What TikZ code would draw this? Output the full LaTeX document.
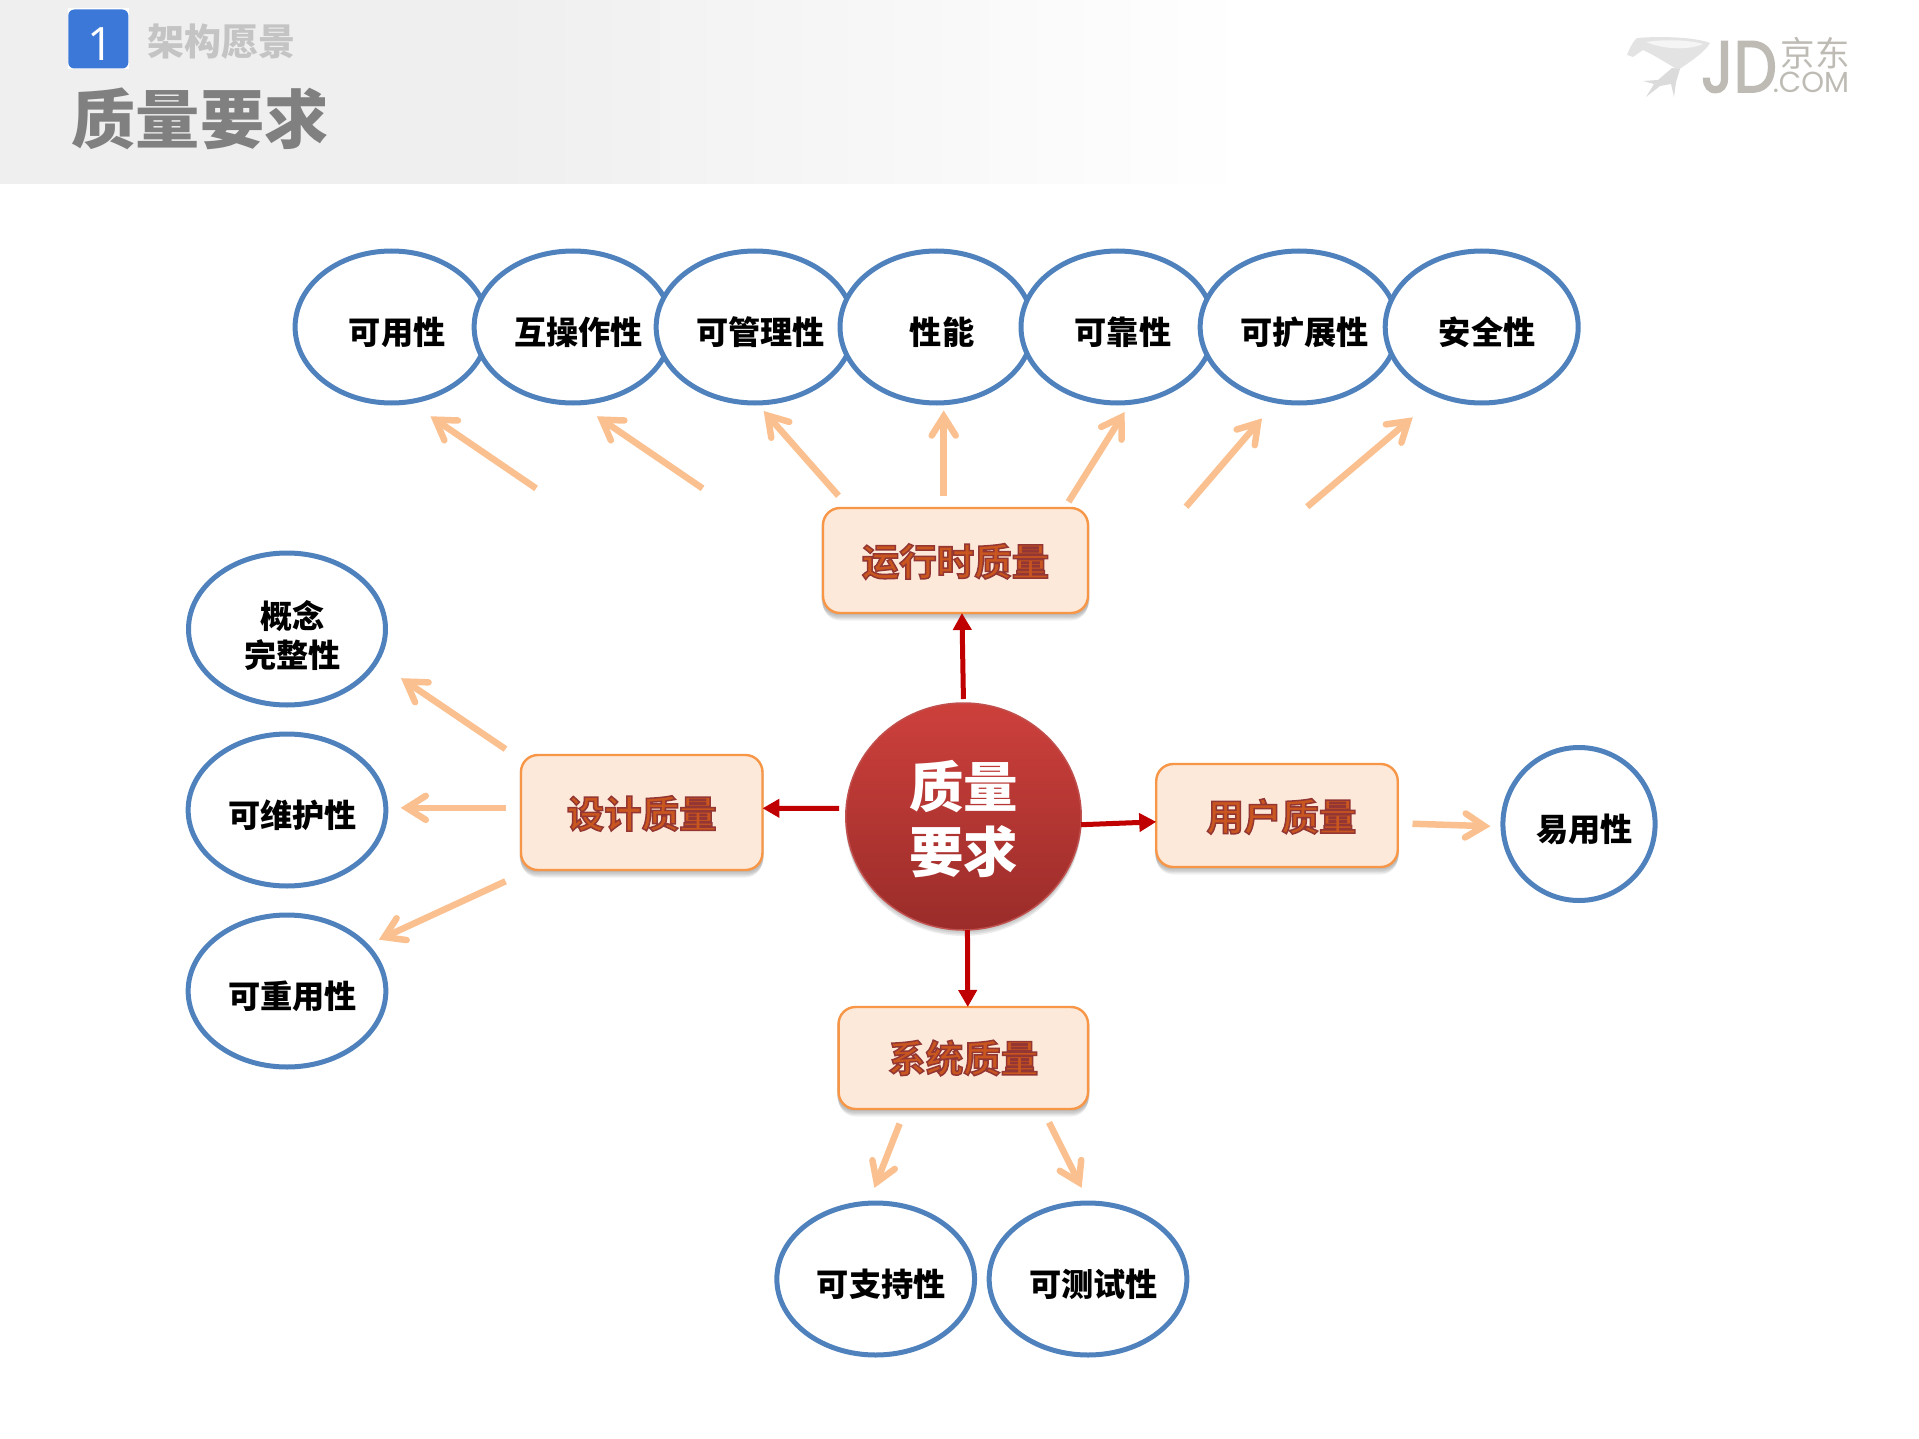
\documentclass[tikz,border=0pt]{standalone}
\usepackage{fontspec}
\setmainfont{Noto Sans CJK SC}
\newfontfamily\latinlight{Open Sans}
\newfontfamily\logofont{Poppins}[FakeBold=2,FakeStretch=0.84]
\newfontfamily\logothin{Poppins}
\newfontfamily\boxfont{Noto Sans CJK SC Bold}[FakeBold=4]
\usetikzlibrary{arrows.meta,shapes.geometric,shadows,calc}
\definecolor{hdr}{HTML}{EFEFEF}
\definecolor{ovalline}{HTML}{4F81BD}
\definecolor{peach}{HTML}{FAC090}
\definecolor{arrred}{HTML}{C00000}
\definecolor{boxfill}{HTML}{FDE9D9}
\definecolor{boxline}{HTML}{F79646}
\definecolor{boxtext}{HTML}{C8561E}
\definecolor{badge}{HTML}{3C78D8}
\definecolor{logo}{HTML}{BDBBB4}
\definecolor{coretop}{HTML}{CD403C}
\definecolor{corebot}{HTML}{9A2C29}
\definecolor{coreline}{HTML}{C0504D}
\pgfdeclarehorizontalshading{hdrshade}{100bp}{color(0bp)=(hdr);color(44bp)=(hdr);color(73bp)=(white);color(100bp)=(white)}
% extra height on top of a text moves it down inside its node by half that height
\newcommand{\addtop}[2]{\raisebox{0pt}[\dimexpr\height+#1\relax][\depth]{#2}}
\newcommand{\ovaltxt}[1]{\addtop{11pt}{\hspace*{11pt}#1}}
\newcommand{\boxtxt}[1]{\special{pdf:code 0.58 0.21 0.20 RG}#1}
\tikzset{
  oval/.style={ellipse,draw=ovalline,line width=5pt,fill=white,inner sep=0pt,outer sep=0pt,
     minimum width=193pt,minimum height=152pt,text=black,font=\fontsize{32.2}{39}\selectfont\bfseries},
  wide oval/.style={oval,minimum width=197pt},
  softshadow/.style={
     general shadow={fill=black,opacity=.06,shadow yshift=-1.5pt,shadow scale=1.012},
     general shadow={fill=black,opacity=.06,shadow yshift=-3pt,shadow scale=1.012},
     general shadow={fill=black,opacity=.06,shadow yshift=-4.5pt,shadow scale=1.008},
     general shadow={fill=black,opacity=.06,shadow yshift=-6pt,shadow scale=1.004},
     general shadow={fill=black,opacity=.06,shadow yshift=-7.5pt}},
  qbox/.style={rectangle,rounded corners=17pt,draw=boxline,line width=2.4pt,fill=boxfill,inner sep=0pt,outer sep=0pt,
     text=boxtext,font=\boxfont\fontsize{37.5}{44}\selectfont,softshadow},
  peacharrow/.style={draw=peach,line width=6.5pt,shorten >=-2pt,-{Straight Barb[length=19pt,width=24pt,line width=6.5pt,line cap=round]}},
  redarrow/.style={draw=arrred,line width=5pt,-{Triangle[length=17pt,width=18pt]}},
}
\begin{document}
\begin{tikzpicture}[x=1pt,y=-1pt]
\useasboundingbox (0,0) rectangle (1919,1439);
% header
\shade[shading=hdrshade,shading angle=0] (0,0) rectangle (1300,184);
\fill[white] (67.5,8.5) rectangle (129,69.5);
\node[rectangle,rounded corners=6pt,fill=badge,minimum width=60pt,minimum height=59pt,inner sep=0pt,text=white,font=\latinlight\fontsize{46}{46}\selectfont] (badgebox) at (98.3,39) {\addtop{10pt}{\hspace*{4pt}1}};
\node[anchor=center,inner sep=0pt,font=\fontsize{37}{37}\selectfont\bfseries,text=black!23] (subtitle) at (221,42) {架构愿景};
\node[anchor=center,inner sep=0pt,font=\fontsize{64.2}{65}\selectfont\bfseries,text=black!50] (title) at (200,118.6) {质量要求};
% logo
\fill[black!11] (1627,55) .. controls (1630,47) and (1634,40) .. (1637,38) .. controls (1660,36) and (1695,37) .. (1710,43) .. controls (1705,52) and (1690,62) .. (1678,70) .. controls (1665,62) and (1652,54) .. (1643,50) -- (1633,57) -- cycle;
\fill[black!4] (1646,42) .. controls (1665,39) and (1690,40) .. (1703,44) .. controls (1690,50) and (1665,50) .. cycle;
\fill[black!14] (1672,68) -- (1680,69) -- (1676,82) -- (1674,97) -- (1671,84) -- (1660,86) -- (1646,97) -- (1654,84) -- (1643,81) -- (1658,80) -- cycle;
\node[anchor=center,inner sep=0pt,text=logo,font=\logofont\fontsize{73}{73}\selectfont] (logojd) at (1739,67) {JD};
\node[anchor=center,inner sep=0pt,text=logo,font=\fontsize{34.5}{35}\selectfont] (logocn) at (1815,53) {京东};
\node[anchor=center,inner sep=0pt,text=logo,font=\logothin\fontsize{29}{30}\selectfont] (logocom) at (1811,82) {.COM};
% ovals
\node[oval] (a1) at (391.6,327) {\ovaltxt{可用性}};
\node[oval] (a2) at (573,327) {\ovaltxt{互操作性}};
\node[oval] (a3) at (755,327) {\ovaltxt{可管理性}};
\node[oval] (a4) at (936.5,327) {\ovaltxt{性能}};
\node[oval] (a5) at (1117.5,327) {\ovaltxt{可靠性}};
\node[oval] (a6) at (1299,327) {\ovaltxt{可扩展性}};
\node[oval] (a7) at (1481.7,327) {\ovaltxt{安全性}};
\node[wide oval] (b1) at (287,629) {\addtop{22pt}{\hspace*{11pt}\begin{tabular}{@{}c@{}}概念\\完整性\end{tabular}}};
\node[wide oval] (b2) at (287,810) {\ovaltxt{可维护性}};
\node[wide oval] (b3) at (287,991) {\ovaltxt{可重用性}};
\node[oval,minimum width=152pt,minimum height=153pt] (c1) at (1579,824) {\ovaltxt{易用性}};
\node[wide oval] (d1) at (875.7,1279) {\ovaltxt{可支持性}};
\node[wide oval] (d2) at (1088,1279) {\ovaltxt{可测试性}};
% boxes
\node[qbox,minimum width=265pt,minimum height=105pt] (run) at (955.5,560.5) {\addtop{2pt}{\boxtxt{运行时质量}}};
\node[qbox,minimum width=241.5pt,minimum height=115pt] (design) at (641.7,812.5) {\addtop{2pt}{\boxtxt{设计质量}}};
\node[qbox,minimum width=241.5pt,minimum height=103pt] (user) at (1277,815.5) {\addtop{2pt}{\hspace*{9pt}\boxtxt{用户质量}}};
\node[qbox,minimum width=249.5pt,minimum height=102pt] (system) at (963.3,1058) {\boxtxt{系统质量}};
% core
\node[ellipse,minimum width=235.4pt,minimum height=227pt,inner sep=0pt,outer sep=0pt,draw=coreline,line width=1.5pt,
  top color=coretop,bottom color=corebot,text=white,
  font=\fontsize{54.5}{61.5}\selectfont\bfseries,
  general shadow={fill=black,opacity=.07,shadow yshift=-2pt,shadow scale=1.006},
  general shadow={fill=black,opacity=.07,shadow yshift=-4pt,shadow scale=1.004},
  general shadow={fill=black,opacity=.07,shadow yshift=-6pt}] (core) at (963.5,816.5) {\addtop{18pt}{\begin{tabular}{@{}c@{}}质量\\要求\end{tabular}}};
% red arrows
\draw[redarrow,shorten <=4pt] (core.90) -- (run.-83.3);
\draw[redarrow,shorten <=7pt] (core.176) -- (design.2);
\draw[redarrow] (core.-4) -- (user.183.3);
\draw[redarrow] (core.-88) -- (system.85.5);
% free ends of peach arrows
\foreach \n/\sx/\sy/\ex/\ey in {
 p1/438/399/353/341, p2/574/399/489/341, p3/685/405/625/337, p4/771/405/771/337,
 p5/873/410/918/338, p6/969/414/1030/343, p7/1068/414/1153/342,
 q1/413/612/329/555, q2/413/660/329/660, q3/413/720/311/767,
 r1/1154/673/1216/675, s1/735/918/715/969, s2/857/917/883/969}{
  \coordinate (\n s) at ({\sx*1.224},{\sy*1.224});
  \coordinate (\n e) at ({\ex*1.224},{\ey*1.224});
  \draw[peacharrow] (\n s) -- (\n e);
}
\end{tikzpicture}
\end{document}
